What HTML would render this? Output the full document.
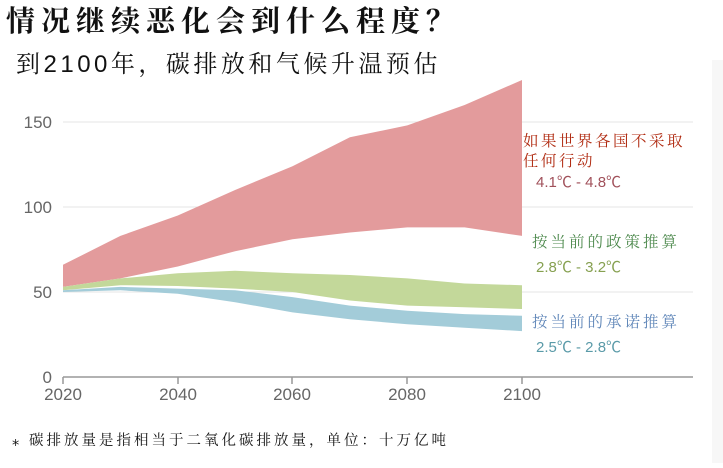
<!DOCTYPE html>
<html><head><meta charset="utf-8"><style>
body{margin:0;background:#fff;width:723px;height:463px;overflow:hidden}
</style></head><body>
<svg width="723" height="463" xmlns="http://www.w3.org/2000/svg">
<rect x="0" y="0" width="723" height="463" fill="#fff"/>
<rect x="712" y="60" width="11" height="403" fill="#f7f7f7"/>
<g font-family="'Liberation Sans','Noto Sans CJK SC',sans-serif">
<text x="6" y="31" font-size="29" font-weight="bold" fill="#111" letter-spacing="6" font-family="'Noto Serif CJK SC',serif">情况继续恶化会到什么程度？</text>
<text x="16" y="72" font-size="24" fill="#111" letter-spacing="3.5" font-family="'Liberation Sans','Noto Serif CJK SC',sans-serif">到2100年，碳排放和气候升温预估</text>
<g stroke="#e6e6e6" stroke-width="1">
<line x1="63" y1="122" x2="693" y2="122"/>
<line x1="63" y1="207" x2="693" y2="207"/>
<line x1="63" y1="292" x2="693" y2="292"/>
</g>
<polygon fill="#e39b9c" points="63,264.8 120.4,235.9 177.8,215.5 235.1,190 292.5,166.2 349.9,137.3 407.3,125.4 464.6,105 522,80 522,235.9 464.6,227.4 407.3,227.4 349.9,232.5 292.5,239.3 235.1,251.2 177.8,266.5 120.4,278.4 63,286.9"/>
<polygon fill="#c3d89a" points="63,286.9 120.4,278.4 177.8,273.3 235.1,270.8 292.5,273.3 349.9,275 407.3,278.4 464.6,283.5 522,285.2 522,309 464.6,307.3 407.3,305.6 349.9,300.5 292.5,292 235.1,288.6 177.8,286 120.4,285.2 63,290.3"/>
<polygon fill="#a3ccd9" points="63,290.3 120.4,286.9 177.8,288.6 235.1,290.3 292.5,297.1 349.9,305.6 407.3,310.7 464.6,314.1 522,315.8 522,331.1 464.6,327.7 407.3,324.3 349.9,319.2 292.5,312.4 235.1,302.2 177.8,293.7 120.4,290.3 63,292"/>
<line x1="63" y1="377" x2="693" y2="377" stroke="#999" stroke-width="1.5"/>
<g stroke="#999" stroke-width="1.5">
<line x1="63" y1="377" x2="63" y2="384"/><line x1="178" y1="377" x2="178" y2="384"/><line x1="292" y1="377" x2="292" y2="384"/><line x1="407" y1="377" x2="407" y2="384"/><line x1="522" y1="377" x2="522" y2="384"/>
</g>
<g font-size="17" fill="#666" text-anchor="end">
<text x="52" y="128">150</text><text x="52" y="213">100</text><text x="52" y="298">50</text><text x="52" y="383">0</text>
</g>
<g font-size="17" fill="#666" text-anchor="middle">
<text x="63" y="400">2020</text><text x="178" y="400">2040</text><text x="292" y="400">2060</text><text x="407" y="400">2080</text><text x="522" y="400">2100</text>
</g>
<g font-family="'Noto Serif CJK SC',serif" font-size="15.5">
<text x="523" y="146" fill="#b02a10" letter-spacing="2.5">如果世界各国不采取</text>
<text x="523" y="166" fill="#b02a10" letter-spacing="2.5">任何行动</text>
<text x="532" y="247" fill="#4e8a4e" letter-spacing="3">按当前的政策推算</text>
<text x="532" y="327" fill="#5f86b8" letter-spacing="3">按当前的承诺推算</text>
</g>
<g font-size="15">
<text x="536" y="187" fill="#a0505a">4.1℃ - 4.8℃</text>
<text x="536" y="272" fill="#86a050">2.8℃ - 3.2℃</text>
<text x="536" y="352" fill="#5a9aa8">2.5℃ - 2.8℃</text>
</g>
<text x="12" y="445" font-size="14.5" fill="#111" letter-spacing="3" font-family="'Noto Serif CJK SC',serif">⁎  碳排放量是指相当于二氧化碳排放量，单位：十万亿吨</text>
</g>
</svg>
</body></html>
